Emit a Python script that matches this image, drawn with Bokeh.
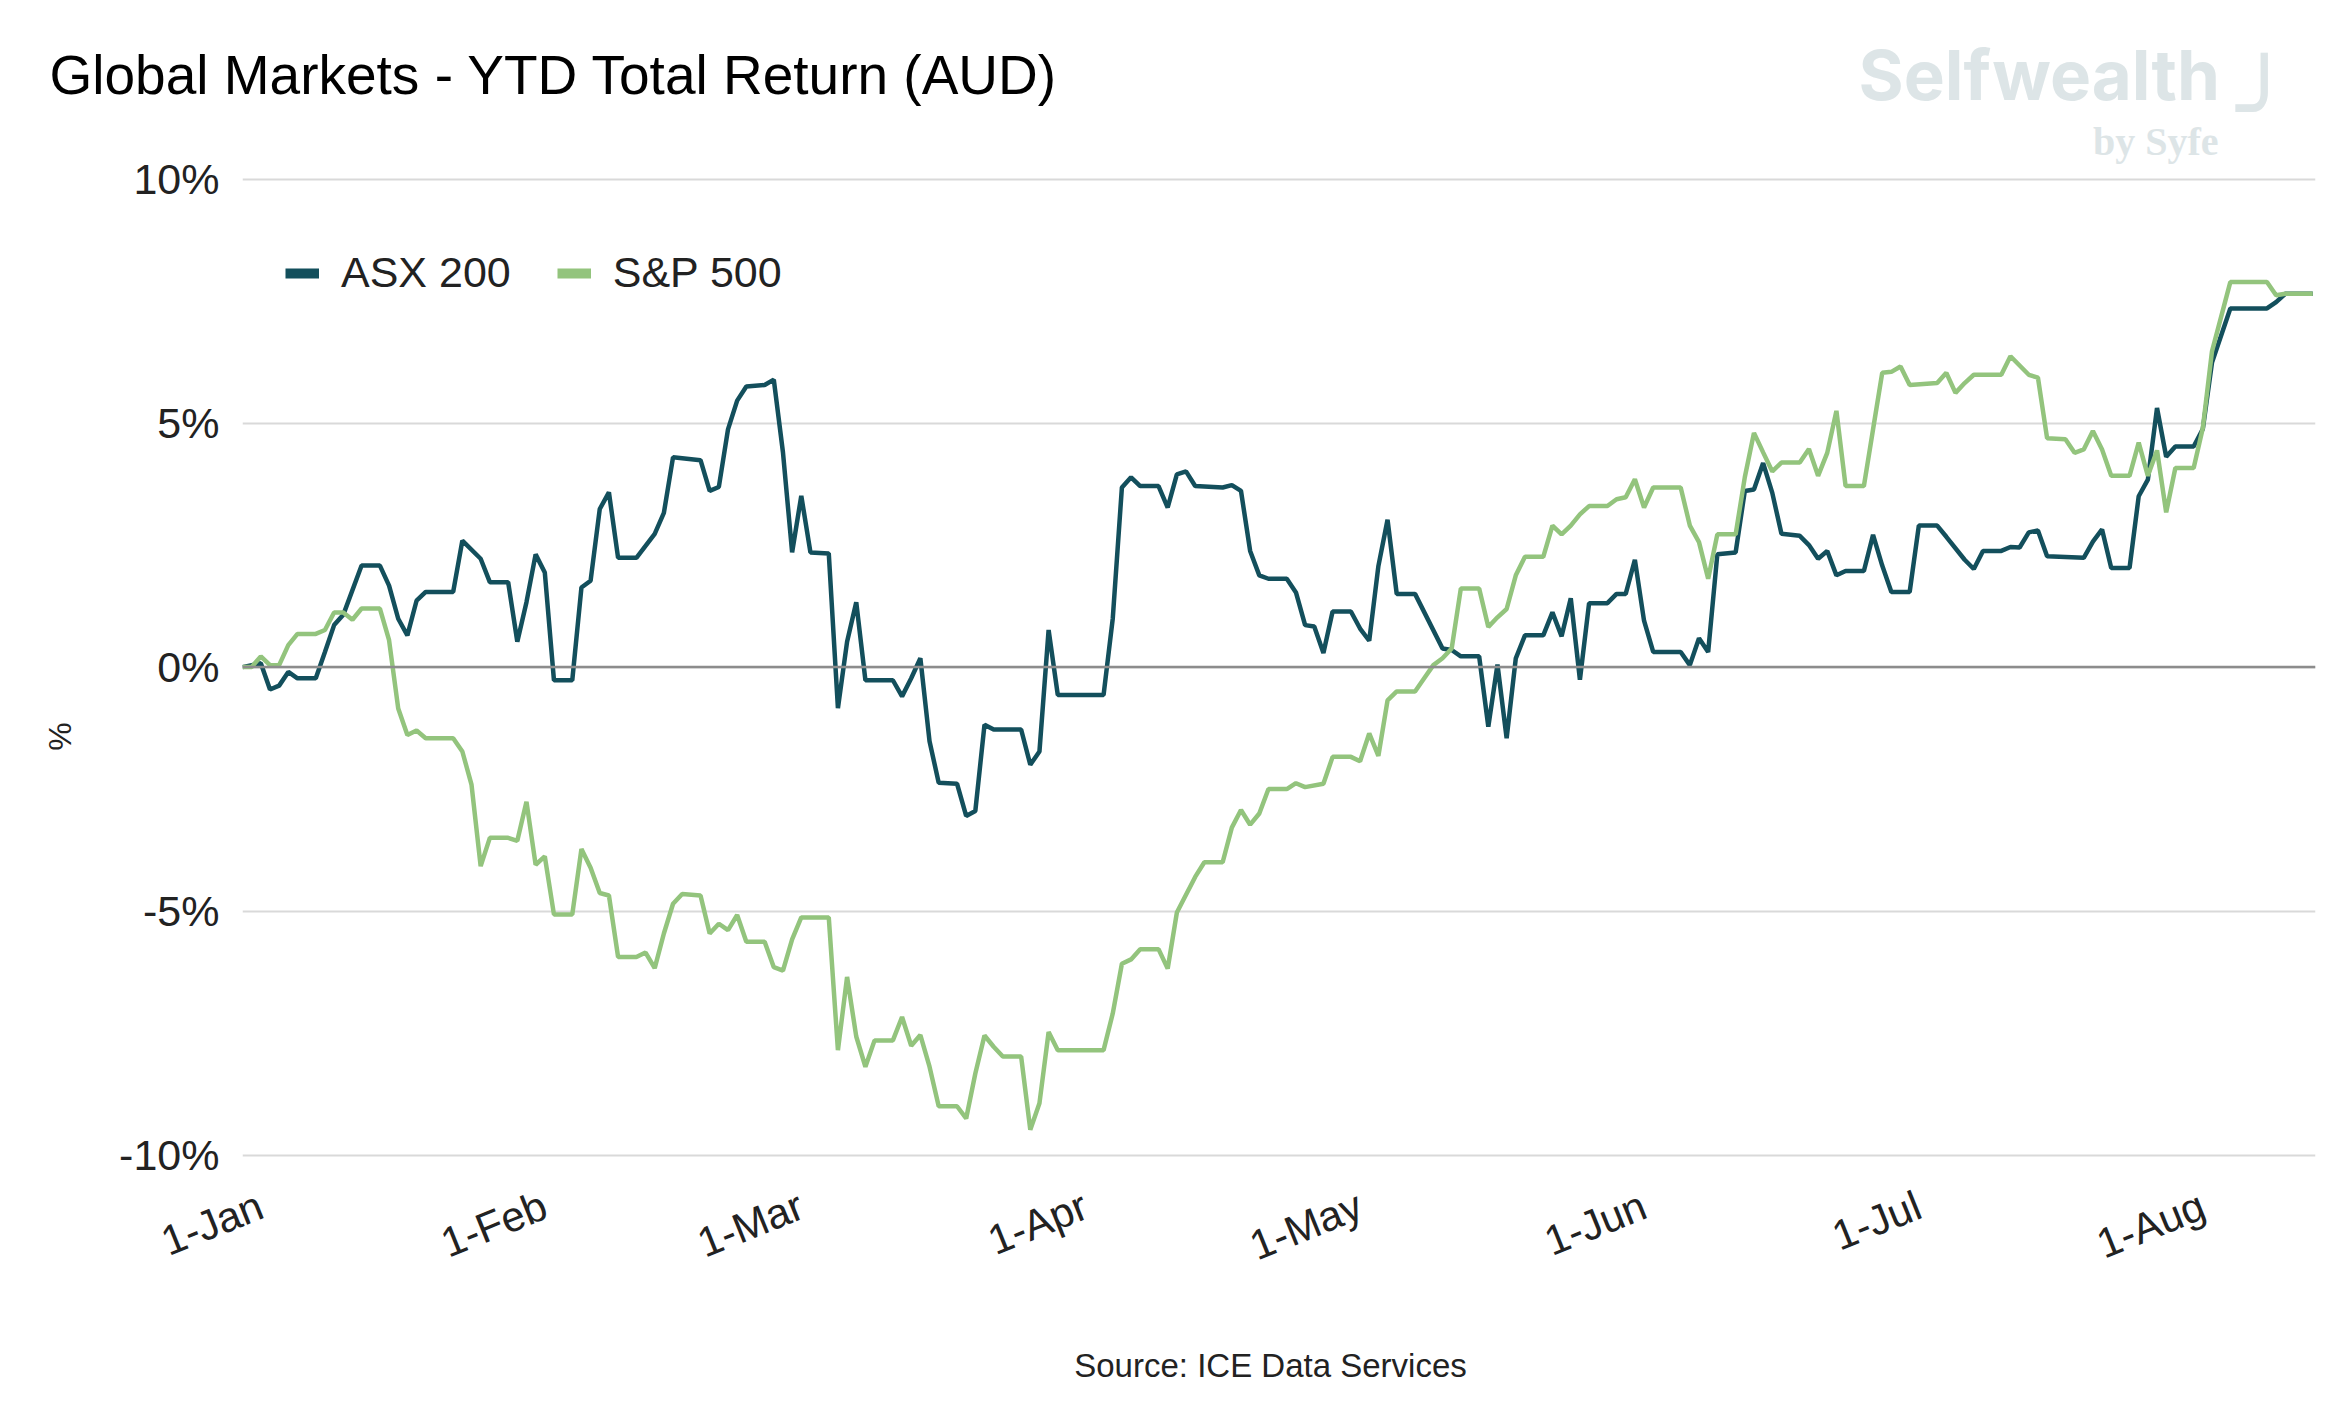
import pandas as pd
from math import pi

from bokeh.plotting import figure
from bokeh.models import (ColumnDataSource, Span, Label, Legend, LegendItem,
                          FixedTicker, PrintfTickFormatter, Range1d)
from bokeh.embed import file_html
from bokeh.resources import INLINE

# days counted from the first observation, value = YTD total return in % (AUD)
asx_day = [0, 2, 3, 4, 5, 6, 8, 9, 10, 11, 13, 15, 16, 17, 18, 19, 20, 23, 24, 26,
           27, 29, 30, 31, 32, 33, 34, 36, 37, 38, 39, 40, 41, 43, 45, 46, 47, 50, 51, 52,
           53, 54, 55, 57, 58, 59, 60, 61, 62, 64, 65, 66, 67, 68, 71, 72, 73, 74, 75, 76,
           78, 79, 80, 81, 82, 85, 86, 87, 88, 89, 94, 95, 96, 97, 98, 100, 101, 102, 103, 104,
           107, 108, 109, 110, 111, 112, 114, 115, 116, 117, 118, 119, 121, 122, 123, 124, 125, 126, 128, 131,
           132, 133, 135, 136, 137, 138, 139, 140, 142, 143, 144, 145, 146, 147, 149, 150, 151, 152, 153, 154,
           157, 158, 159, 160, 161, 163, 164, 165, 166, 167, 168, 170, 171, 172, 173, 174, 175, 177, 178, 179,
           180, 182, 183, 185, 186, 188, 189, 190, 192, 193, 194, 195, 196, 197, 201, 202, 203, 204, 206, 207,
           208, 209, 210, 211, 213, 214, 215, 217, 221, 222, 223, 226]
asx_ret = [0.0, 0.08, -0.46, -0.38, -0.10, -0.23, -0.23, 0.31, 0.86, 1.07, 2.08, 2.08, 1.67, 0.99, 0.65, 1.36, 1.54, 1.54, 2.59, 2.22,
           1.74, 1.74, 0.52, 1.33, 2.31, 1.94, -0.27, -0.27, 1.63, 1.77, 3.24, 3.58, 2.24, 2.24, 2.73, 3.16, 4.30, 4.24, 3.61, 3.69,
           4.87, 5.46, 5.75, 5.78, 5.89, 4.40, 2.35, 3.51, 2.35, 2.33, -0.84, 0.52, 1.33, -0.27, -0.27, -0.60, -0.23, 0.18, -1.52, -2.37,
           -2.39, -3.05, -2.95, -1.18, -1.28, -1.28, -2.00, -1.73, 0.76, -0.57, -0.57, 0.99, 3.68, 3.89, 3.71, 3.71, 3.27, 3.95, 4.01, 3.71,
           3.68, 3.73, 3.61, 2.38, 1.88, 1.81, 1.81, 1.53, 0.86, 0.83, 0.29, 1.14, 1.14, 0.79, 0.54, 2.07, 3.02, 1.50, 1.50, 0.38,
           0.35, 0.22, 0.22, -1.22, 0.05, -1.46, 0.18, 0.65, 0.65, 1.12, 0.63, 1.41, -0.26, 1.31, 1.31, 1.50, 1.50, 2.20, 0.95, 0.31,
           0.31, 0.04, 0.59, 0.31, 2.31, 2.35, 3.61, 3.64, 4.18, 3.57, 2.73, 2.69, 2.50, 2.22, 2.38, 1.88, 1.97, 1.97, 2.71, 2.08,
           1.54, 1.54, 2.90, 2.90, 2.67, 2.20, 2.01, 2.38, 2.38, 2.46, 2.45, 2.76, 2.80, 2.27, 2.24, 2.57, 2.82, 2.03, 2.03, 3.50,
           3.84, 5.31, 4.31, 4.52, 4.52, 4.88, 6.24, 7.35, 7.35, 7.48, 7.65, 7.65]

spx_day = [0, 1, 2, 3, 4, 5, 6, 8, 9, 10, 11, 12, 13, 15, 16, 17, 18, 19, 20, 23,
           24, 25, 26, 27, 29, 30, 31, 32, 33, 34, 36, 37, 38, 39, 40, 41, 43, 44, 45, 46,
           47, 48, 50, 51, 52, 53, 54, 55, 57, 58, 59, 60, 61, 64, 65, 66, 67, 68, 69, 71,
           72, 73, 74, 75, 76, 78, 79, 80, 81, 82, 83, 85, 86, 87, 88, 89, 94, 95, 96, 97,
           98, 100, 101, 102, 104, 105, 107, 108, 109, 110, 111, 112, 114, 115, 116, 118, 119, 121, 122, 123,
           124, 125, 126, 128, 129, 130, 131, 132, 133, 135, 136, 137, 138, 139, 140, 142, 143, 144, 145, 146,
           147, 149, 150, 151, 152, 153, 154, 157, 158, 159, 160, 161, 163, 164, 165, 166, 167, 168, 170, 171,
           172, 173, 174, 175, 177, 178, 179, 180, 181, 182, 185, 186, 187, 188, 189, 192, 193, 195, 196, 197,
           199, 200, 201, 202, 203, 204, 206, 207, 208, 209, 210, 211, 213, 214, 215, 217, 221, 222, 223, 226]
spx_ret = [0.0, 0.0, 0.22, 0.04, 0.04, 0.45, 0.68, 0.68, 0.76, 1.12, 1.12, 0.97, 1.20, 1.20, 0.55, -0.85, -1.39, -1.30, -1.46, -1.46,
           -1.73, -2.41, -4.08, -3.50, -3.50, -3.56, -2.76, -4.05, -3.88, -5.07, -5.07, -3.73, -4.11, -4.63, -4.68, -5.94, -5.94, -5.85, -6.17, -5.46,
           -4.85, -4.65, -4.68, -5.46, -5.26, -5.39, -5.08, -5.63, -5.63, -6.15, -6.22, -5.58, -5.13, -5.13, -7.85, -6.35, -7.57, -8.19, -7.65, -7.65,
           -7.17, -7.76, -7.54, -8.19, -9.00, -9.00, -9.25, -8.33, -7.55, -7.78, -7.98, -7.98, -9.48, -8.94, -7.48, -7.85, -7.85, -7.10, -6.08, -5.99,
           -5.78, -5.78, -6.18, -5.03, -4.30, -4.00, -4.00, -3.29, -2.93, -3.23, -3.00, -2.50, -2.50, -2.38, -2.46, -2.39, -1.84, -1.84, -1.93, -1.36,
           -1.82, -0.68, -0.50, -0.50, -0.23, 0.04, 0.18, 0.38, 1.61, 1.61, 0.82, 1.02, 1.19, 1.88, 2.26, 2.26, 2.90, 2.72, 2.90, 3.13,
           3.30, 3.30, 3.44, 3.48, 3.85, 3.27, 3.68, 3.68, 2.90, 2.56, 1.81, 2.72, 2.72, 3.89, 4.80, 4.40, 4.01, 4.19, 4.19, 4.47,
           3.92, 4.39, 5.25, 3.71, 3.71, 4.87, 6.03, 6.05, 6.16, 5.78, 5.82, 6.03, 5.62, 5.82, 5.99, 5.99, 6.37, 5.99, 5.93, 4.69,
           4.67, 4.39, 4.46, 4.84, 4.46, 3.92, 3.92, 4.60, 3.92, 4.44, 3.17, 4.08, 4.08, 4.90, 6.47, 7.89, 7.89, 7.62, 7.65, 7.65]

first_day = "2024-12-30"
last_day = 226.3
month_starts = ["2025-01-01", "2025-02-01", "2025-03-01", "2025-04-01",
                "2025-05-01", "2025-06-01", "2025-07-01", "2025-08-01"]
month_labels = ["1-Jan", "1-Feb", "1-Mar", "1-Apr", "1-May", "1-Jun", "1-Jul", "1-Aug"]
y_ticks = [-10, -5, 0, 5, 10]

ASX_COLOR = "#134f5c"
SPX_COLOR = "#93c47d"
LOGO = "#dde5e7"
FONT = "Liberation Sans"

t0 = pd.Timestamp(first_day)
asx_src = ColumnDataSource(pd.DataFrame({"date": t0 + pd.to_timedelta(asx_day, unit="D"), "ret": asx_ret}))
spx_src = ColumnDataSource(pd.DataFrame({"date": t0 + pd.to_timedelta(spx_day, unit="D"), "ret": spx_ret}))

# the frame reaches the top of the canvas so the logo sits inside it
p = figure(width=2341, height=1417, x_axis_type="datetime",
           x_range=Range1d(t0.to_pydatetime(), (t0 + pd.Timedelta(days=last_day)).to_pydatetime()),
           y_range=Range1d(-10.05, 13.66),
           output_backend="svg", toolbar_location=None,
           min_border_left=242, min_border_right=26, min_border_top=0, min_border_bottom=260)
p.outline_line_color = None
p.background_fill_color = "white"

# grid
p.xgrid.visible = False
p.ygrid.ticker = FixedTicker(ticks=y_ticks)
p.ygrid.grid_line_color = "#d9d9d9"
p.ygrid.grid_line_width = 2
p.add_layout(Span(location=0, dimension="width", line_color="#8c8c8c", line_width=2.5))

# axes
tick_ms = [pd.Timestamp(m).value / 1e6 for m in month_starts]
p.xaxis.ticker = FixedTicker(ticks=tick_ms)
p.xaxis.major_label_overrides = dict(zip(tick_ms, month_labels))
p.xaxis.major_label_orientation = 22 * pi / 180
p.xaxis.major_label_standoff = 40
p.yaxis.ticker = FixedTicker(ticks=y_ticks)
p.yaxis.formatter = PrintfTickFormatter(format="%d%%")
p.yaxis.major_label_standoff = 17
for ax in (p.xaxis, p.yaxis):
    ax.axis_line_color = None
    ax.major_tick_line_color = None
    ax.minor_tick_line_color = None
    ax.major_label_text_font = FONT
    ax.major_label_text_color = "#222222"
p.xaxis.major_label_text_font_size = "42px"
p.yaxis.major_label_text_font_size = "43px"

# series
p.line("date", "ret", source=asx_src, color=ASX_COLOR, line_width=4.5)
p.line("date", "ret", source=spx_src, color=SPX_COLOR, line_width=4.5)

# hidden twins with thick strokes, only used as legend keys
asx_key = p.line("date", "ret", source=asx_src, color=ASX_COLOR, line_width=10, visible=False)
spx_key = p.line("date", "ret", source=spx_src, color=SPX_COLOR, line_width=10, visible=False)
legend = Legend(items=[LegendItem(label="ASX 200", renderers=[asx_key]),
                       LegendItem(label="S&P 500", renderers=[spx_key])],
                orientation="horizontal", location=(43, 860),
                glyph_width=34, glyph_height=20, label_standoff=22, spacing=46,
                padding=0, margin=0, border_line_color=None, background_fill_alpha=0,
                inactive_fill_alpha=0, click_policy="none",
                label_text_font=FONT, label_text_font_size="43px", label_text_color="#222222")
p.add_layout(legend)


def note(text, x, y, size, place="center", color="#222222", font=FONT, style="normal",
         align="left", baseline="alphabetic", angle=0):
    p.add_layout(Label(x=x, y=y, x_units="screen", y_units="screen", text=text, angle=angle,
                       text_font=font, text_font_style=style, text_font_size=size,
                       text_color=color, text_align=align, text_baseline=baseline), place)


# texts outside the frame go into side panels (not clipped there)
note("%", -21, 421, "32px", place="left", align="center", baseline="middle", angle=pi / 2)
note("Source: ICE Data Services", 1028, -35, "33px", place="below", align="center", baseline="middle")
note("Global Markets - YTD Total Return (AUD)", -193, 1318, "55px", place="below", color="#000000")

# logo, inside the frame
note("Selfwealth", 1616, 1083, "69px", color=LOGO, font="Inter", style="bold")
note("\u256f", 2022, 1050, "93px", color=LOGO, font="DejaVu Sans", style="bold", align="center")
note("by Syfe", 1976, 1016, "40px", color=LOGO, font="Liberation Serif", style="bold", align="right")

open("out.html", "w").write(file_html(p, INLINE))
